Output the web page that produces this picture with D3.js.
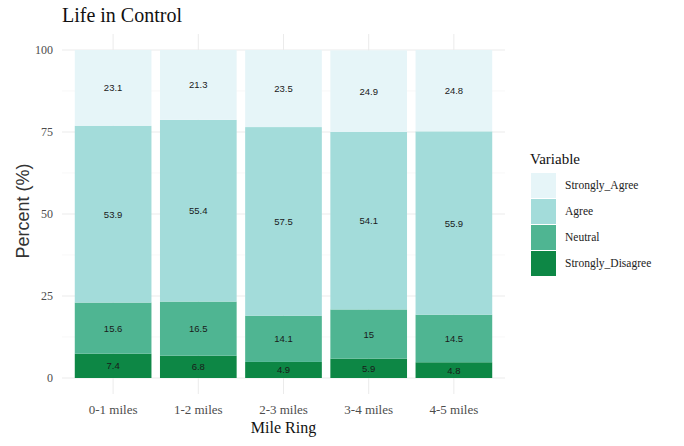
<!DOCTYPE html>
<html><head><meta charset="utf-8">
<script src="https://cdn.jsdelivr.net/npm/d3@7"></script>
<style>body{margin:0;background:#fff}</style>
</head><body>
<svg id="c" width="684" height="446"></svg>
<script>
const categories = ["0-1 miles","1-2 miles","2-3 miles","3-4 miles","4-5 miles"];
const variables = ["Strongly_Agree","Agree","Neutral","Strongly_Disagree"];
const stronglyAgree = [23.1,21.3,23.5,24.9,24.8];
const agree = [53.9,55.4,57.5,54.1,55.9];
const neutral = [15.6,16.5,14.1,15,14.5];
const stronglyDisagree = [7.4,6.8,4.9,5.9,4.8];
const yTicks = [0,25,50,75,100];
const colors = ["#e6f5f8","#a3dcda","#4fb592","#0d8745"];

const SERIF = "Liberation Serif";
const SANS = "Liberation Sans";

const series = {Strongly_Agree: stronglyAgree, Agree: agree, Neutral: neutral, Strongly_Disagree: stronglyDisagree};
const rows = categories.map((c,i)=>{const r={cat:c}; variables.forEach(v=>r[v]=series[v][i]); return r;});
const stackOrder = ["Strongly_Disagree","Neutral","Agree","Strongly_Agree"];
const stacked = d3.stack().keys(stackOrder)(rows);
const color = d3.scaleOrdinal().domain(variables).range(colors);

const svg = d3.select("#c");
const L=62, R=505, T=34, B=394;
const x = d3.scaleBand().domain(categories).range([L,R]).paddingInner(0.1).paddingOuter(0.15);
const y = d3.scaleLinear().domain([0,100]).range([378,50]);

// grid
const g = svg.append("g");
[12.5,37.5,62.5,87.5].forEach(v=>g.append("line").attr("x1",L).attr("x2",R).attr("y1",y(v)).attr("y2",y(v)).attr("stroke","#f3f3f3").attr("stroke-width",0.6));
yTicks.forEach(v=>g.append("line").attr("x1",L).attr("x2",R).attr("y1",y(v)).attr("y2",y(v)).attr("stroke","#ebebeb").attr("stroke-width",1));
categories.forEach(c=>g.append("line").attr("x1",x(c)+x.bandwidth()/2).attr("x2",x(c)+x.bandwidth()/2).attr("y1",T).attr("y2",B).attr("stroke","#ebebeb").attr("stroke-width",1));

// bars
stacked.forEach(layer=>{
  svg.append("g").selectAll("rect").data(layer).join("rect")
    .attr("x",d=>x(d.data.cat)).attr("width",x.bandwidth())
    .attr("y",d=>y(d[1])).attr("height",d=>y(d[0])-y(d[1]))
    .attr("fill",color(layer.key));
  svg.append("g").selectAll("text").data(layer).join("text")
    .style("font-family",SANS)
    .attr("x",d=>x(d.data.cat)+x.bandwidth()/2).attr("y",d=>y((d[0]+d[1])/2)+3.5)
    .attr("text-anchor","middle")
    .attr("font-size",9.5).attr("fill","#1a1a1a")
    .text(d=>d.data[layer.key]);
});

// axes
const ya = svg.append("g").attr("transform",`translate(${L},0)`)
  .call(d3.axisLeft(y).tickValues(yTicks).tickSize(0).tickPadding(9));
ya.select(".domain").remove();
ya.selectAll("text").style("font-family",SERIF).attr("font-size",12).attr("fill","#4d4d4d");
const xa = svg.append("g").attr("transform",`translate(0,${B})`)
  .call(d3.axisBottom(x).tickSize(0).tickPadding(11));
xa.select(".domain").remove();
xa.selectAll("text").style("font-family",SERIF).attr("font-size",13).attr("fill","#4d4d4d");

svg.append("text").style("font-family",SERIF).attr("x",x("2-3 miles")+x.bandwidth()/2).attr("y",433).attr("text-anchor","middle")
  .attr("font-size",16).attr("fill","#111").text("Mile Ring");
svg.append("text").style("font-family",SANS).attr("transform",`translate(29,211) rotate(-90)`).attr("text-anchor","middle")
  .attr("font-size",18).attr("fill","#333").text("Percent (%)");
svg.append("text").style("font-family",SERIF).attr("x",62).attr("y",22)
  .attr("font-size",20).attr("fill","#111").text("Life in Control");

// legend
const lg = svg.append("g");
lg.append("text").style("font-family",SERIF).attr("x",530).attr("y",164).attr("font-size",15).attr("fill","#111").text("Variable");
variables.forEach((v,i)=>{
  const yy = 173 + i*26;
  lg.append("rect").attr("x",531).attr("y",yy).attr("width",25).attr("height",25).attr("fill",color(v));
  lg.append("text").style("font-family",SERIF).attr("x",565).attr("y",yy+16).attr("font-size",11.5).attr("fill","#222").text(v);
});
</script>
</body></html>
